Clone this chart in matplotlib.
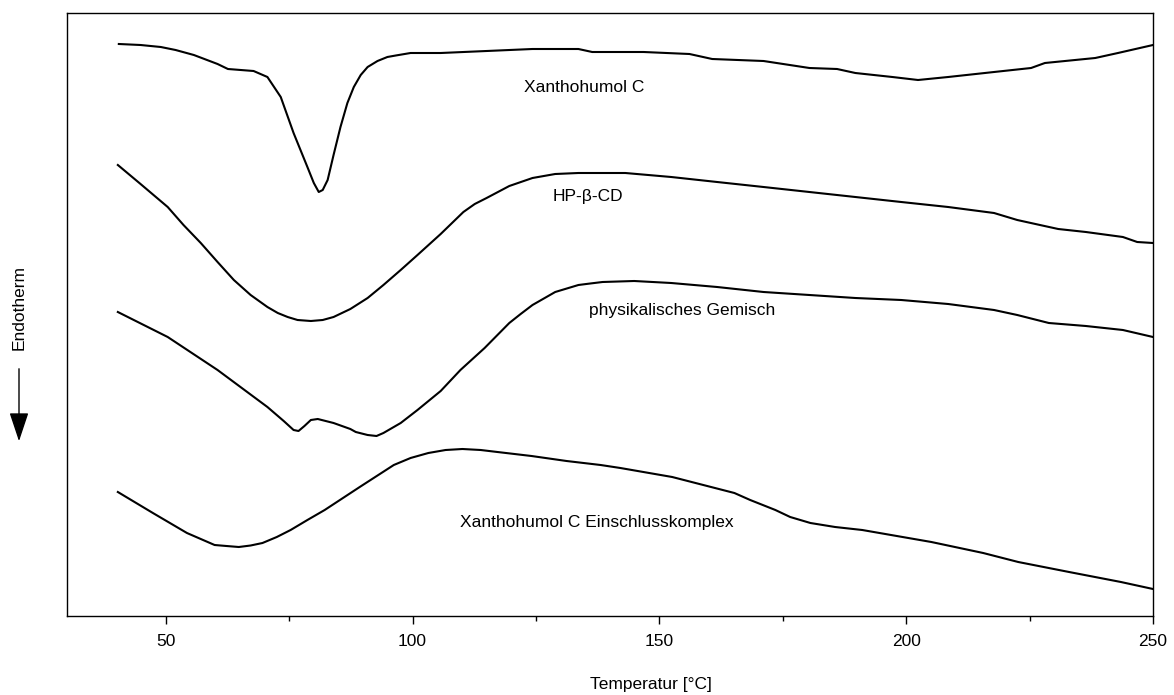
import matplotlib
matplotlib.use("Agg")
import matplotlib.pyplot as plt
from matplotlib.ticker import MultipleLocator

plt.rcParams['font.family'] = ['Liberation Sans', 'DejaVu Sans']

# Temperature [°C] and relative heat flow (arbitrary units, curves offset)
t_xan = [40.5, 44.9, 49.0, 52.0, 55.7, 60.5, 62.6, 65.2, 67.8, 70.6, 73.3, 75.9, 77.3,
         78.7, 80.0, 81.0, 81.8, 82.8, 84.0, 85.4, 86.8, 88.1, 89.5, 90.9, 92.9, 94.9,
         96.6, 99.6, 105.7, 124.3, 133.6, 136.4, 146.8, 156.1, 160.7, 171.1, 180.4,
         186.0, 189.7, 197.2, 202.4, 208.5, 217.8, 225.3, 228.1, 238.3, 242.9, 250.0]
y_xan = [57.2, 57.1, 56.9, 56.6, 56.1, 55.2, 54.7, 54.6, 54.5, 53.9, 51.9, 48.3, 46.6,
         44.9, 43.3, 42.4, 42.6, 43.6, 46.1, 48.9, 51.3, 52.9, 54.1, 54.9, 55.5, 55.9,
         56.05, 56.3, 56.3, 56.7, 56.7, 56.4, 56.4, 56.2, 55.7, 55.5, 54.8,
         54.7, 54.3, 53.9, 53.6, 53.9, 54.4, 54.8, 55.3, 55.8, 56.3, 57.1]

t_hpcd = [40.3, 44.9, 50.4, 53.6, 57.1, 60.5, 63.8, 67.2, 70.6, 72.7, 74.7, 76.7, 79.4,
          81.8, 84.0, 87.4, 90.9, 94.1, 97.6, 101.0, 105.7, 110.3, 112.6, 115.0, 119.6,
          124.3, 128.9, 133.6, 143.1, 152.4, 161.7, 171.1, 180.4, 189.7, 199.0, 208.5,
          217.8, 222.5, 227.1, 230.8, 236.4, 243.9, 246.8, 250.0]
y_hpcd = [45.1, 43.2, 40.9, 39.1, 37.3, 35.4, 33.6, 32.1, 30.9, 30.3, 29.9, 29.6, 29.5,
          29.6, 29.9, 30.7, 31.8, 33.1, 34.6, 36.1, 38.2, 40.4, 41.2, 41.8, 43.0,
          43.8, 44.2, 44.3, 44.3, 43.9, 43.4, 42.9, 42.4, 41.9, 41.4, 40.9,
          40.3, 39.6, 39.1, 38.7, 38.4, 37.9, 37.4, 37.3]

t_mix = [40.3, 50.4, 60.5, 70.6, 73.9, 75.9, 76.9, 78.1, 79.4, 80.8, 84.0, 87.4, 88.5,
         90.9, 92.7, 94.1, 97.6, 101.0, 105.7, 109.7, 114.6, 119.6, 121.9, 124.3, 128.9,
         133.6, 136.0, 138.5, 144.9, 152.4, 161.7, 171.1, 180.4, 189.7, 199.0, 208.5,
         217.8, 222.5, 228.9, 236.4, 243.9, 250.0]
y_mix = [30.4, 27.9, 24.6, 20.9, 19.5, 18.6, 18.5, 19.0, 19.6, 19.7, 19.3, 18.7, 18.4,
         18.1, 18.0, 18.3, 19.3, 20.6, 22.5, 24.6, 26.8, 29.3, 30.2, 31.1, 32.4,
         33.1, 33.25, 33.4, 33.5, 33.3, 32.9, 32.4, 32.1, 31.8, 31.6, 31.2,
         30.6, 30.1, 29.3, 29.0, 28.6, 27.9]

t_kompl = [40.3, 47.4, 54.3, 57.1, 59.9, 62.3, 64.8, 67.2, 69.6, 72.5, 75.3, 78.7, 82.2,
           89.3, 96.2, 99.6, 103.2, 106.7, 110.1, 113.8, 117.2, 124.1, 131.2, 138.1,
           142.1, 152.6, 165.2, 168.4, 173.5, 176.5, 180.6, 185.6, 191.1, 205.1, 215.6,
           222.7, 233.0, 243.5, 250.0]
y_kompl = [12.4, 10.3, 8.3, 7.7, 7.1, 7.0, 6.9, 7.05, 7.3, 7.9, 8.6, 9.6, 10.6,
           12.9, 15.1, 15.8, 16.3, 16.6, 16.7, 16.6, 16.4, 16.0, 15.5, 15.1,
           14.8, 13.9, 12.3, 11.6, 10.6, 9.9, 9.3, 8.9, 8.6, 7.4, 6.3,
           5.4, 4.4, 3.4, 2.7]

labels = ["Xanthohumol C", "HP-\u03b2-CD", "physikalisches Gemisch",
          "Xanthohumol C Einschlusskomplex"]
label_pos = [(134.8, 52.9), (135.6, 42.0), (154.7, 30.6), (137.4, 9.4)]

W, H = 1174, 695
fig = plt.figure(figsize=(W / 100, H / 100), dpi=100)
ax = fig.add_axes([67 / W, 1 - 616 / H, (1153 - 67) / W, (616 - 13) / H])

for t, y in [(t_xan, y_xan), (t_hpcd, y_hpcd), (t_mix, y_mix), (t_kompl, y_kompl)]:
    ax.plot(t, y, color='black', lw=1.5, solid_joinstyle='round')

for txt, (x, y) in zip(labels, label_pos):
    ax.text(x, y, txt, ha='center', va='center', fontsize=12.5)

ax.set_xlim(30, 250)
ax.set_ylim(0, 60.3)
ax.xaxis.set_major_locator(MultipleLocator(50))
ax.xaxis.set_minor_locator(MultipleLocator(25))
ax.tick_params(axis='x', which='major', direction='out', length=6, width=1,
               labelsize=12.5, pad=7)
ax.tick_params(axis='x', which='minor', direction='out', length=3.5, width=1)
ax.set_yticks([])
for s in ax.spines.values():
    s.set_linewidth(1.0)

fig.text(651 / W, 1 - 684 / H, "Temperatur [\u00b0C]", ha='center', va='center',
         fontsize=12.5)
fig.text(19 / W, 1 - 308 / H, "Endotherm", ha='center', va='center',
         rotation=90, fontsize=12.5)
fig.patches.append(matplotlib.patches.FancyArrowPatch(
    (19 / W, 1 - 366 / H), (19 / W, 1 - 444 / H), transform=fig.transFigure,
    arrowstyle='-|>,head_length=0.9,head_width=0.3', mutation_scale=20,
    color='black', lw=1.0))

fig.savefig("out.png", dpi=100)
